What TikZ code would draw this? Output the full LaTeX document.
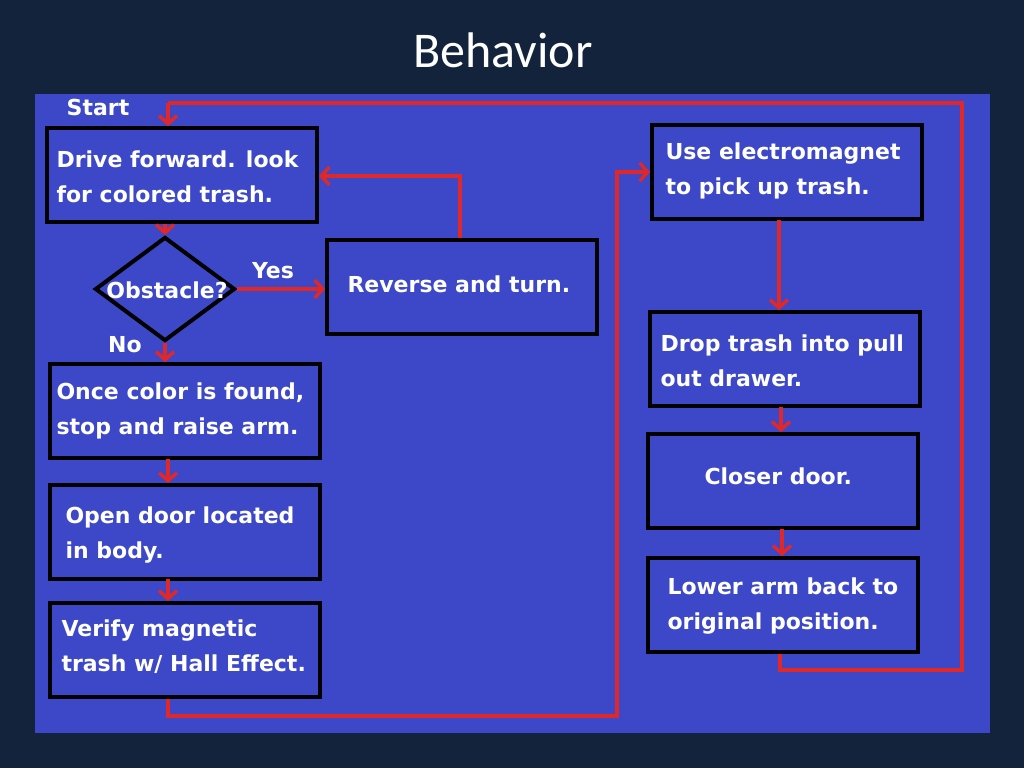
\documentclass[tikz,border=0pt]{standalone}
\usepackage{fontspec}
\setmainfont{DejaVu Sans}
\newfontfamily\titlefont{Carlito}
\usetikzlibrary{arrows.meta,shapes.geometric}
\definecolor{bgnavy}{HTML}{13233B}
\definecolor{panel}{HTML}{3C48C8}
\definecolor{arr}{HTML}{E02828}
\tikzset{
  box/.style={draw=black,line width=4pt,fill=panel,minimum width=270pt,minimum height=94pt,inner sep=0pt},
  txt/.style={text=white,font=\bfseries\fontsize{22}{35}\selectfont,align=left,anchor=west},
  lbl/.style={text=white,font=\bfseries\fontsize{22}{26}\selectfont},
  flow/.style={draw=arr,line width=4pt,-{Straight Barb[length=8pt,width=18pt,line width=3.5pt]}},
  line/.style={draw=arr,line width=4pt}
}
\begin{document}
\begin{tikzpicture}[x=1pt,y=-1pt]
\fill[bgnavy] (0,0) rectangle (1024,768);
\useasboundingbox (0,0) rectangle (1024,768);
\node[text=white,font=\titlefont\fontsize{50}{54}\selectfont] (title) at (503,50) {Behavior};
\fill[panel] (35,94) rectangle (990,733);
% boxes
\node[box] (drive) at (182,175) {};
\node[txt] at (53,177) {Drive forward. look\\for colored trash.};
\node[diamond,draw=black,line width=4pt,fill=panel,minimum width=140pt,minimum height=104pt,inner sep=0pt] (obs) at (165,289) {};
\node[lbl] at (167,290) {Obstacle?};
\node[box] (rev) at (462,287) {};
\node[txt] at (344,284) {Reverse and turn.};
\node[box] (once) at (185,411) {};
\node[txt] at (53,411) {Once color is found,\\stop and raise arm.};
\node[box] (open) at (185,532) {};
\node[txt] at (62,535) {Open door located\\in body.};
\node[box] (ver) at (185,650) {};
\node[txt] at (58,647) {Verify magnetic\\trash w/ Hall Effect.};
\node[box] (mag) at (787,172) {};
\node[txt] at (662,171) {Use electromagnet\\to pick up trash.};
\node[box] (drop) at (785,359) {};
\node[txt] at (657,361) {Drop trash into pull\\out drawer.};
\node[box] (clo) at (783,481) {};
\node[txt] at (701,476) {Closer door.};
\node[box] (low) at (783,605) {};
\node[txt] at (664,606) {Lower arm back to\\original position.};
% labels
\node[lbl] (start) at (98,107) {Start};
\node[lbl] (yes) at (273,271) {Yes};
\node[lbl] (no) at (125,345) {No};
% connectors
\coordinate (l1) at (780,670); \coordinate (l2) at (962,670);
\coordinate (l3) at (962,103); \coordinate (l4) at (168,103);
\draw[line,line join=miter] (low.south -| l1) -- (l1) -- (l2) -- (l3) -- (l4);
\draw[flow] (l4) -- (l4 |- drive.north);
\draw[flow] (drive.south -| obs) -- (obs.north);
\draw[flow] (obs.east) -- (rev.west |- obs.east);
\coordinate (r1) at (460,176);
\draw[flow] (rev.north -| r1) -- (r1) -- (drive.east |- r1);
\draw[flow] (obs.south) -- (obs.south |- once.north);
\draw[flow] (168,459) -- (open.north -| 168,0);
\draw[flow] (168,579) -- (ver.north -| 168,0);
\coordinate (v1) at (168,716); \coordinate (v2) at (617,716); \coordinate (v3) at (617,172);
\draw[flow] (ver.south -| v1) -- (v1) -- (v2) -- (v3) -- (mag.west |- v3);
\draw[flow] (779,220) -- (drop.north -| 779,0);
\draw[flow] (781,407) -- (clo.north -| 781,0);
\draw[flow] (782,529) -- (low.north -| 782,0);
\end{tikzpicture}
\end{document}
